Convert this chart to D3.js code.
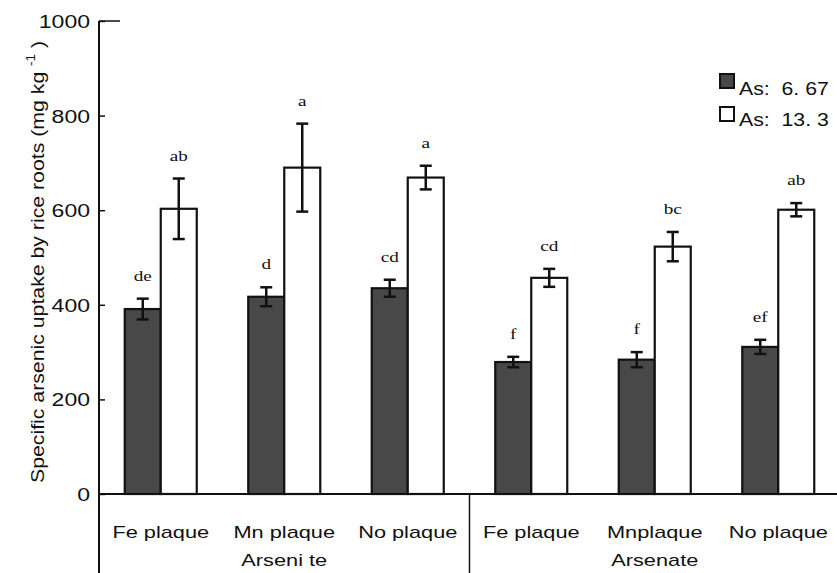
<!DOCTYPE html>
<html>
<head>
<meta charset="utf-8">
<script src="https://cdn.jsdelivr.net/npm/d3@7"></script>
<style>
  body { margin: 0; background: #fff; }
  text { font-family: "Liberation Sans", Arial, sans-serif; fill: #111; }
  .letter { font-family: "Liberation Serif", "Times New Roman", serif; }
</style>
</head>
<body>
<script>
// six treatments, two As levels
const categories = ['Fe plaque', 'Mn plaque', 'No plaque', 'Fe plaque', 'Mnplaque', 'No plaque']
const groups = ['Arseni te', 'Arsenate']
const legendLabels = ['As:  6. 67', 'As:  13. 3']
const yTicks = [0, 200, 400, 600, 800, 1000]

const lowValues = [391, 417, 435, 279, 284, 311]
const lowErrors = [22, 20, 18, 11, 16, 15]
const highValues = [603, 690, 669, 457, 523, 601]
const highErrors = [64, 93, 25, 19, 31, 14]
const lowLetters = ['de', 'd', 'cd', 'f', 'f', 'ef']
const highLetters = ['ab', 'a', 'a', 'cd', 'bc', 'ab']

const w = 837
const h = 573
const stretch = 1.28   // original text is wide
const dark = '#484848'

const svg = d3.select('body')
  .append('svg')
  .attr('width', w)
  .attr('height', h)

const xScale = d3.scaleBand()
  .domain(d3.range(categories.length))
  .range([99, 840])

const yScale = d3.scaleLinear()
  .domain([0, 1000])
  .range([494, 21])

const barW = 36

// stretched text helper
const label = (g, x, y, str, size, anchor, cls) => {
  return g.append('text')
    .attr('class', cls || null)
    .attr('transform', `translate(${x},${y}) scale(${stretch},1)`)
    .attr('text-anchor', anchor)
    .attr('font-size', size)
    .style('white-space', 'pre')
    .text(str)
}

// bars
const series = [
  { values: lowValues, errors: lowErrors, letters: lowLetters, fill: dark, off: -barW },
  { values: highValues, errors: highErrors, letters: highLetters, fill: '#fff', off: 0 }
]

series.forEach(s => {
  const cx = (i) => xScale(i) + xScale.bandwidth() / 2 + s.off

  svg.selectAll(null)
    .data(s.values)
    .enter()
    .append('rect')
    .attr('x', (d, i) => cx(i))
    .attr('y', d => yScale(d))
    .attr('width', barW)
    .attr('height', d => yScale(0) - yScale(d))
    .attr('fill', s.fill)
    .attr('stroke', '#111')
    .attr('stroke-width', 2.2)

  // error bars
  s.values.forEach((d, i) => {
    const mx = cx(i) + barW / 2
    const top = yScale(d + s.errors[i])
    const bot = yScale(d - s.errors[i])
    svg.append('line')
      .attr('x1', mx).attr('x2', mx)
      .attr('y1', top).attr('y2', bot)
      .attr('stroke', '#111').attr('stroke-width', 2.5)
    ;[top, bot].forEach(yy => {
      svg.append('line')
        .attr('x1', mx - 6).attr('x2', mx + 6)
        .attr('y1', yy).attr('y2', yy)
        .attr('stroke', '#111').attr('stroke-width', 2.5)
    })
    label(svg, mx, top - 18, s.letters[i], 15, 'middle', 'letter')
  })
})

// y axis
const yAxis = d3.axisLeft(yScale)
  .tickValues(yTicks)
  .tickFormat(d3.format('d'))
  .tickSizeInner(-6)
  .tickSizeOuter(0)

const gy = svg.append('g')
  .attr('transform', 'translate(99,0)')
  .call(yAxis)

gy.select('.domain').remove()
gy.selectAll('.tick line').attr('stroke', '#111').attr('stroke-width', 1.5)
gy.selectAll('.tick text')
  .attr('x', 0)
  .attr('dy', '0.36em')
  .attr('font-size', 18)
  .attr('font-family', '"Liberation Sans", Arial, sans-serif')
  .attr('fill', '#111')
  .attr('transform', `translate(-9,0) scale(${stretch},1)`)

// longer tick at the top
svg.append('line')
  .attr('x1', 99).attr('x2', 120)
  .attr('y1', yScale(1000)).attr('y2', yScale(1000))
  .attr('stroke', '#111').attr('stroke-width', 1.5)

svg.append('line')
  .attr('x1', 99).attr('x2', 99)
  .attr('y1', yScale(1000)).attr('y2', h)
  .attr('stroke', '#111').attr('stroke-width', 2)

// x axis
svg.append('line')
  .attr('x1', 99).attr('x2', w)
  .attr('y1', yScale(0)).attr('y2', yScale(0))
  .attr('stroke', '#111').attr('stroke-width', 2)

svg.append('line')
  .attr('x1', xScale(3)).attr('x2', xScale(3))
  .attr('y1', yScale(0)).attr('y2', h)
  .attr('stroke', '#111').attr('stroke-width', 1.5)

categories.forEach((c, i) => {
  label(svg, xScale(i) + xScale.bandwidth() / 2, 538, c, 17, 'middle')
})
groups.forEach((g, i) => {
  label(svg, xScale(i * 3 + 1) + xScale.bandwidth() / 2, 566, g, 17, 'middle')
})

// y title
const title = svg.append('text')
  .attr('transform', 'translate(44,262) rotate(-90) scale(1.12,1)')
  .attr('text-anchor', 'middle')
  .attr('font-size', 19)
  .style('white-space', 'pre')
title.append('tspan').text('Specific arsenic uptake by rice roots (mg kg ')
title.append('tspan').attr('font-size', 12).attr('dy', -9).text('-1')
title.append('tspan').attr('dy', 9).text(' )')

// legend
const legendFills = [dark, '#fff']
legendFills.forEach((f, i) => {
  svg.append('rect')
    .attr('x', 720).attr('y', 74 + i * 33)
    .attr('width', 14).attr('height', 14)
    .attr('fill', f)
    .attr('stroke', '#111').attr('stroke-width', 2)
  svg.append('text')
    .attr('transform', `translate(739,${95 + i * 31}) scale(1.12,1)`)
    .attr('font-size', 19)
    .style('white-space', 'pre')
    .text(legendLabels[i])
})
</script>
</body>
</html>
